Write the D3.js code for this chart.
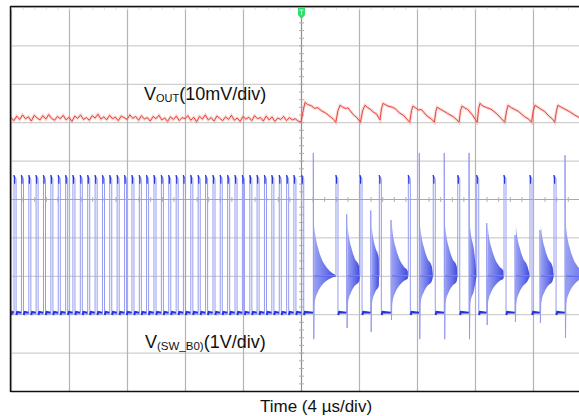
<!DOCTYPE html>
<html><head><meta charset="utf-8">
<script src="https://cdn.jsdelivr.net/npm/d3@7"></script>
<style>html,body{margin:0;padding:0;background:#fff;}svg{display:block;}</style>
</head><body><svg id="c" width="579" height="416"></svg>
<script>
// ---- axis / grid data ----
const timeTicks = [-20,-16,-12,-8,-4,0,4,8,12,16,20];      // µs, 4 µs/div
const divTicks  = [-5,-4,-3,-2,-1,0,1,2,3,4,5];             // vertical divisions
const xLabel = "Time (4 µs/div)";

// ---- V(SW_B0) channel, 1 V/div, ground at -3 div ----
const swGroundDiv = -3;
const swLow = 0.0, swHigh = 3.62, swRing = 1.0;            // V
const prePulseT = [-19.79,-19.28,-18.77,-18.27,-17.76,-17.25,-16.74,-16.23,-15.73,-15.22,
  -14.71,-14.20,-13.69,-13.19,-12.68,-12.17,-11.66,-11.15,-10.65,-10.14,
  -9.63,-9.12,-8.61,-8.11,-7.60,-7.09,-6.58,-6.07,-5.57,-5.06,
  -4.55,-4.04,-3.53,-3.03,-2.52,-2.01,-1.50,-0.99,-0.49];
const postPulseT = [0.05, 2.41, 4.07, 5.40, 7.40, 9.12, 10.81, 12.12, 14.00, 15.79, 17.45];
const postSpikeT = [0.85, 3.15, 4.81, 6.21, 8.16, 9.88, 11.59, 12.81, 14.76, 16.48, 18.21];
const spikeTop   = [4.20, 2.60, 2.70, 2.45, 4.20, 4.20, 4.20, 2.37, 2.06, 2.19, 4.14];
const spikeBot   = [-0.65,-0.36,-0.46,-0.15,-0.65,-0.65,-0.65,-0.28,-0.20,-0.23,-0.62];
const ringDt = [0, 0.08, 0.25, 0.50, 0.80, 1.10, 1.50];     // µs after spike
const ringUp = [1.30, 1.05, 0.75, 0.45, 0.25, 0.12, 0.03];  // V above ring level
const ringDn = [-0.75,-0.60,-0.42,-0.26,-0.14,-0.07,-0.02]; // V below ring level

// ---- VOUT channel, 10 mV/div, reference at +2 div ----
const voutRefDiv = 2;
const voutPreNoise = [1.2,0.4,1.6,0.7,1.9,0.9,1.4,0.3,1.8,1.1,0.6,1.7,0.8,2.0,1.0,0.5,1.5,0.9,1.8,0.6,
  1.3,0.2,1.6,1.0,1.9,0.7,1.2,0.5,1.7,1.1,2.1,0.8,1.4,0.6,1.8,0.9,1.3,0.4,1.6,1.2,
  0.7,1.9,1.0,1.5,0.5,1.7,0.8,1.2,0.3,1.5,0.9,1.8,0.6,1.1,0.2,1.4,0.7,1.6,0.4,1.2,
  0.9,1.7,0.5,1.3,0.1,1.5,0.8,1.9,0.6,1.2,0.3,1.6,1.0,0.4,1.4,0.7,1.8,0.5,1.1,0.2,
  1.5,0.8,1.3,0.4,1.7,0.9,1.2,0.3,1.6,0.6,1.4,0.2,1.1,0.7,1.5,0.4,1.2,0.6,0.9,0.3]; // mV, every 0.2 µs from -20
const voutPostT = [0.00,0.15,0.28,0.45,0.70,0.95,1.15,1.40,1.70,2.00,2.25,2.40,
  2.55,2.69,2.85,3.05,3.25,3.60,3.85,4.10,
  4.25,4.41,4.60,4.80,5.00,5.20,5.45,
  5.55,5.66,5.85,6.00,6.30,6.50,6.80,7.10,7.30,7.50,
  7.62,7.72,7.95,8.10,8.30,8.70,9.00,9.20,
  9.30,9.38,9.60,9.80,10.10,10.50,10.75,10.90,
  11.00,11.10,11.30,11.50,11.80,12.15,
  12.25,12.34,12.55,12.80,13.10,13.50,13.80,14.05,
  14.18,14.28,14.50,14.70,15.00,15.40,15.70,15.90,
  16.02,16.14,16.35,16.50,16.80,17.10,17.35,17.50,
  17.62,17.72,17.95,18.20,18.50,18.90,19.40,20.00];
const voutPostV = [0.0,3.0,5.2,4.6,4.3,3.6,3.8,3.0,2.4,1.5,0.7,0.0,
  3.0,4.4,4.0,3.6,3.7,2.0,1.2,0.0,
  3.0,4.4,3.8,3.3,2.6,2.2,0.6,
  3.5,4.9,4.5,4.2,3.9,3.5,2.4,1.7,0.8,0.0,
  3.0,4.2,3.6,3.2,3.3,1.6,0.8,0.0,
  2.8,3.9,3.4,3.0,2.3,1.4,0.6,0.0,
  3.0,4.2,3.7,3.3,2.0,0.0,
  3.5,4.9,4.2,3.8,3.4,2.2,1.0,0.0,
  3.0,4.4,3.8,3.4,2.8,1.5,0.8,0.0,
  3.0,4.4,3.9,3.5,2.8,1.6,0.8,0.0,
  3.0,4.4,3.9,3.4,2.8,1.8,0.8,0.0];

// ---- layout ----
const svg = d3.select("#c");
const L = 11, T = 7, R = 591, B = 391;
const x = d3.scaleLinear().domain([-20, 20]).range([L, R]);
const y = d3.scaleLinear().domain([-5, 5]).range([B, T]);
const ySW = v => y(swGroundDiv + v);
const yVo = mv => y(voutRefDiv + mv / 10);

// grid
const g = svg.append("g");
g.selectAll(".hg").data(divTicks).join("line")
  .attr("x1", L).attr("x2", R).attr("y1", d => y(d) + 0.5).attr("y2", d => y(d) + 0.5)
  .attr("stroke", d => d === 0 ? "#a9a9a9" : "#cfcfcf").attr("stroke-width", 1.2);
g.selectAll(".vg").data(timeTicks).join("line")
  .attr("x1", d => Math.round(x(d)) + 0.5).attr("x2", d => Math.round(x(d)) + 0.5)
  .attr("y1", T).attr("y2", B)
  .attr("stroke", d => d === 0 ? "#8f8f8f" : "#b4b4b4").attr("stroke-width", 1.2);
// minor ticks on centre lines
const minorT = d3.range(-20, 20.01, 0.8);
g.selectAll(".mt").data(minorT).join("line")
  .attr("x1", d => x(d) + 0.5).attr("x2", d => x(d) + 0.5)
  .attr("y1", y(0) - 2).attr("y2", y(0) + 3).attr("stroke", "#b0b0b0");
const minorD = d3.range(-5, 5.01, 0.2);
g.selectAll(".md").data(minorD).join("line")
  .attr("x1", x(0) - 2).attr("x2", x(0) + 3)
  .attr("y1", d => y(d) + 0.5).attr("y2", d => y(d) + 0.5).attr("stroke", "#b0b0b0");
g.selectAll(".mtt").data(minorT).join("line")
  .attr("x1", d => x(d) + 0.5).attr("x2", d => x(d) + 0.5)
  .attr("y1", T).attr("y2", T + 3).attr("stroke", "#e6dede");

// clip
svg.append("clipPath").attr("id", "clip").append("rect")
  .attr("x", L).attr("y", T).attr("width", R - L).attr("height", B - T);
const plot = svg.append("g").attr("clip-path", "url(#clip)");

// ---- VOUT trace ----
const redPts = voutPreNoise.map((v, i) => [-20 + i * 0.2, v]).concat(voutPostT.map((t, i) => [t, voutPostV[i]]));
const redLine = d3.line().x(d => x(d[0])).y(d => yVo(d[1]));
plot.append("path").attr("d", redLine(redPts)).attr("fill", "none")
  .attr("stroke", "#f08a80").attr("stroke-width", 3).attr("opacity", 0.35);
plot.append("path").attr("d", redLine(redPts)).attr("fill", "none")
  .attr("stroke", "#e8463c").attr("stroke-width", 1);

// ---- SW trace ----
const lightBlue = "#959cf0", darkBlue = "#2533dc";
const pts = [[-20, swLow]];
const dwell = [];   // dark low segments
const tops = [];    // top blips
const pw = 0.14;    // pulse width µs
let prevEnd = -20;
prePulseT.forEach(tp => {
  dwell.push([prevEnd, tp]);
  pts.push([tp, swLow], [tp, swHigh], [tp + pw, swHigh - 0.1], [tp + pw, swLow]);
  tops.push(tp);
  prevEnd = tp + pw;
});
const rings = [];
postPulseT.forEach((tp, i) => {
  const base = i === 0 ? swLow : swRing;
  if (i === 0) dwell.push([prevEnd, tp]);
  pts.push([tp, base], [tp, swHigh], [tp + pw, swHigh - 0.1], [tp + pw, swLow]);
  tops.push(tp);
  const ts = postSpikeT[i];
  dwell.push([tp + pw, ts]);
  pts.push([ts, swLow + 0.05], [ts, spikeTop[i]], [ts + 0.03, spikeBot[i]], [ts + 0.08, swRing]);
  const next = i + 1 < postPulseT.length ? postPulseT[i + 1] : 20.5;
  pts.push([next, swRing]);
  const env = ringDt.map((dt, k) => ({t: ts + 0.06 + dt, up: ringUp[k], dn: ringDn[k]}))
    .filter(e => e.t < next - 0.02);
  env.push({t: next - 0.02, up: 0.02, dn: -0.02});
  rings.push(env);
});

const defs = svg.append("defs");
const grad = defs.append("linearGradient").attr("id", "rg").attr("x1", 0).attr("x2", 1).attr("y1", 0).attr("y2", 0);
grad.append("stop").attr("offset", 0).attr("stop-color", "#8f97f2");
grad.append("stop").attr("offset", 0.6).attr("stop-color", "#5560e6");
grad.append("stop").attr("offset", 1).attr("stop-color", "#2a37dc");

const area = d3.area().x(d => x(d.t)).y0(d => ySW(swRing + d.dn)).y1(d => ySW(swRing + d.up)).curve(d3.curveMonotoneX);
plot.selectAll(".ring").data(rings).join("path").attr("d", area)
  .attr("fill", "url(#rg)").attr("opacity", 0.9);
// ringing centre core
plot.selectAll(".ringc").data(rings).join("line")
  .attr("x1", d => x(d[0].t)).attr("x2", d => x(d[d.length - 1].t))
  .attr("y1", ySW(swRing)).attr("y2", ySW(swRing)).attr("stroke", darkBlue).attr("stroke-width", 1.2);

const blueLine = d3.line().x(d => x(d[0])).y(d => ySW(d[1]));
plot.append("path").attr("d", blueLine(pts)).attr("fill", "none")
  .attr("stroke", lightBlue).attr("stroke-width", 1);

// low dwell segments (dark)
plot.selectAll(".dw").data(dwell.filter(d => d[1] - d[0] > 0.05)).join("path")
  .attr("d", d => blueLine([[d[0] + 0.02, swLow - 0.02], [d[0] + 0.08, swLow + 0.06], [d[1] - 0.02, swLow + 0.04]]))
  .attr("fill", "none").attr("stroke", darkBlue).attr("stroke-width", 2);
// top blips (dark, small)
plot.selectAll(".tb").data(tops).join("path")
  .attr("d", tp => blueLine([[tp - 0.01, swHigh], [tp + 0.04, swHigh - 0.06], [tp + 0.04, swHigh - 0.22]]))
  .attr("fill", "none").attr("stroke", darkBlue).attr("stroke-width", 1.2);

// ---- frame ----
svg.append("line").attr("x1", L - 0.5).attr("x2", 579).attr("y1", T - 0.5).attr("y2", T - 0.5).attr("stroke", "#111").attr("stroke-width", 1.5);
svg.append("line").attr("x1", L - 0.5).attr("x2", 579).attr("y1", B + 0.5).attr("y2", B + 0.5).attr("stroke", "#111").attr("stroke-width", 1.5);
svg.append("line").attr("x1", L - 0.5).attr("x2", L - 0.5).attr("y1", T - 1).attr("y2", B + 1).attr("stroke", "#111").attr("stroke-width", 1.5);

// trigger marker
const tx = x(0) + 0.5;
svg.append("path").attr("d", `M${tx-3.5},${T} h7 v8 l-3.5,4 l-3.5,-4 Z`).attr("fill", "#2fe06c");
svg.append("path").attr("d", `M${tx-2},${T+3} h4 M${tx},${T+3} v5`).attr("stroke", "#c8f8d8").attr("stroke-width", 1);

// ---- labels ----
const font = "'Liberation Sans', Arial, sans-serif";
const t1 = svg.append("text").attr("x", 144).attr("y", 100).attr("font-family", font).attr("font-size", 18).attr("fill", "#111");
t1.append("tspan").text("V");
t1.append("tspan").attr("font-size", 11).attr("dy", 2).text("OUT");
t1.append("tspan").attr("dy", -2).text("(10mV/div)");
const t2 = svg.append("text").attr("x", 145).attr("y", 348).attr("font-family", font).attr("font-size", 18).attr("fill", "#111");
t2.append("tspan").text("V");
t2.append("tspan").attr("font-size", 11.5).attr("dy", 2).text("(SW_B0)");
t2.append("tspan").attr("dy", -2).text("(1V/div)");
svg.append("text").attr("x", 316).attr("y", 412).attr("text-anchor", "middle")
  .attr("font-family", font).attr("font-size", 17).attr("fill", "#111").text(xLabel);
</script></body></html>
